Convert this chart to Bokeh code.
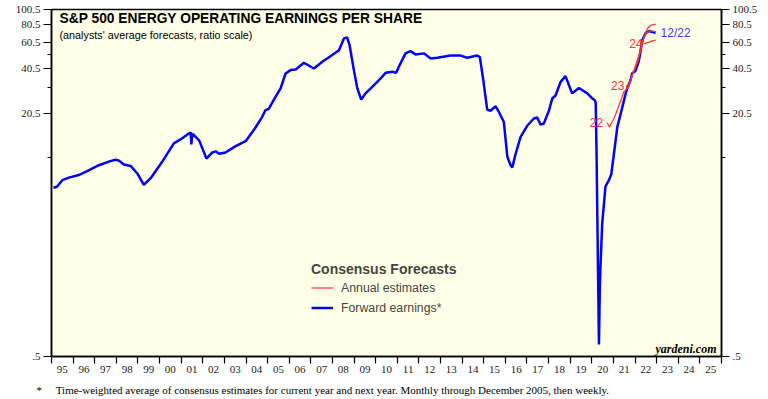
from bokeh.plotting import figure
from bokeh.models import FixedTicker, LogAxis, Range1d, Label, Legend, LegendItem, Title
from bokeh.embed import file_html
from bokeh.resources import INLINE

# ---------------- data ----------------
fwd_dates = [1995.09, 1995.25, 1995.5, 1995.8, 1996.26, 1996.65, 1997.19, 1997.72, 1997.96, 1998.11,
             1998.35, 1998.66, 1998.97, 1999.27, 1999.58, 2000.12, 2000.66, 2000.97, 2001.35, 2001.44,
             2001.47, 2001.52, 2001.83, 2002.17, 2002.44, 2002.6, 2002.75, 2003.05, 2003.5, 2004.0,
             2004.41, 2004.75, 2004.9, 2005.05, 2005.37, 2005.6, 2005.83, 2006.06, 2006.3, 2006.68,
             2006.9, 2007.14, 2007.53, 2007.99, 2008.3, 2008.53, 2008.68, 2008.79, 2008.99, 2009.15,
             2009.33, 2009.53, 2009.84, 2010.15, 2010.46, 2010.77, 2010.95, 2011.07, 2011.38, 2011.61,
             2011.84, 2012.23, 2012.54, 2012.85, 2013.46, 2013.93, 2014.23, 2014.7, 2014.82, 2014.98,
             2015.08, 2015.16, 2015.31, 2015.55, 2015.7, 2015.93, 2016.09, 2016.24, 2016.32, 2016.47,
             2016.7, 2017.01, 2017.32, 2017.47, 2017.63, 2017.78, 2018.02, 2018.17, 2018.32, 2018.55,
             2018.78, 2019.09, 2019.4, 2019.79, 2020.02, 2020.14, 2020.18, 2020.22, 2020.28, 2020.33,
             2020.37, 2020.4, 2020.48, 2020.63, 2020.79, 2020.9, 2021.02, 2021.18, 2021.33, 2021.6,
             2021.79, 2021.87, 2022.02, 2022.18, 2022.34, 2022.49, 2022.65, 2022.8, 2022.95]
fwd_values = [6.6, 6.7, 7.4, 7.7, 8.0, 8.5, 9.3, 9.9, 10.1, 10.0,
              9.4, 9.2, 8.2, 6.9, 7.6, 9.8, 13.0, 13.8, 15.1, 15.3,
              12.8, 15.1, 13.6, 10.3, 11.3, 11.5, 11.1, 11.3, 12.4, 13.5,
              16.3, 19.5, 21.6, 22.0, 26.5, 30.1, 37.8, 39.8, 40.2, 44.5,
              42.7, 40.8, 45.2, 50.1, 54.0, 64.6, 65.7, 58.4, 39.8, 30.1,
              25.4, 27.9, 30.8, 34.1, 38.2, 38.8, 38.2, 41.9, 51.4, 53.2,
              50.6, 51.4, 47.6, 48.1, 49.7, 49.7, 48.1, 49.7, 48.5, 34.1,
              26.5, 21.8, 21.4, 22.9, 21.0, 18.0, 10.6, 9.3, 9.0, 11.0,
              14.3, 17.0, 19.0, 19.3, 17.3, 17.6, 21.5, 25.8, 27.0, 33.1,
              36.3, 27.9, 30.3, 27.9, 25.8, 25.1, 24.0, 11.0, 2.2, 0.6,
              1.44, 1.96, 3.8, 6.7, 7.4, 8.1, 11.0, 16.7, 20.3, 29.1,
              34.1, 37.9, 39.3, 46.1, 63.3, 70.0, 72.3, 71.3, 70.4]

est22_dates = [2020.71, 2020.82, 2021.05, 2021.25, 2021.48, 2021.67, 2021.95, 2022.26, 2022.41, 2022.57, 2022.72, 2022.95]
est22_values = [17.8, 16.7, 19.3, 23.1, 28.5, 30.3, 39.8, 54.3, 66.2, 75.0, 79.0, 80.3]
est23_dates = [2021.6, 2021.63, 2021.7, 2021.85, 2022.0, 2022.15, 2022.3, 2022.42, 2022.55, 2022.7, 2022.85, 2022.95]
est23_values = [31.5, 30.0, 31.0, 36.5, 40.5, 46.0, 58.0, 66.0, 70.5, 72.5, 72.0, 71.5]
est24_dates = [2022.4, 2022.55, 2022.7, 2022.85, 2022.95]
est24_values = [59.5, 60.3, 61.5, 62.5, 63.0]

year_starts = list(range(1995, 2027))
year_labels = ["95", "96", "97", "98", "99", "00", "01", "02", "03", "04", "05", "06", "07", "08",
               "09", "10", "11", "12", "13", "14", "15", "16", "17", "18", "19", "20", "21", "22",
               "23", "24", "25"]
y_ticks = [0.5, 20.5, 40.5, 60.5, 80.5, 100.5]
y_tick_labels = [".5", "20.5", "40.5", "60.5", "80.5", "100.5"]
y_minor_ticks = [10.5, 30.5, 50.5]

RED = "#ff3030"
BLUE = "#0000ff"
NB = "\u00a0"

# ---------------- figure ----------------
p = figure(width=768, height=399, frame_width=670, frame_height=347,
           min_border_left=51, min_border_right=47, min_border_top=9, min_border_bottom=43,
           y_axis_type="log", x_range=Range1d(1995, 2026), y_range=Range1d(0.5, 100.5),
           output_backend="svg", toolbar_location=None, title=None)
p.background_fill_color = "#FFFFE8"
p.border_fill_color = "white"
p.outline_line_color = "black"
p.outline_line_width = 1.5
p.xgrid.visible = False
p.ygrid.visible = False

# x axis: ticks at year boundaries (minor), labels mid-year (major)
xa = p.xaxis[0]
mid = [y + 0.5 for y in year_starts[:-1]]
xa.ticker = FixedTicker(ticks=mid, minor_ticks=year_starts)
xa.major_label_overrides = {m: lab for m, lab in zip(mid, year_labels)}
xa.major_tick_out = 0
xa.major_tick_in = 0
xa.minor_tick_out = 7
xa.minor_tick_in = 0
xa.minor_tick_line_color = "black"
xa.minor_tick_line_width = 1.2
xa.axis_line_width = 1.5
xa.major_label_standoff = 2
xa.major_label_text_font = "Liberation Serif"
xa.major_label_text_font_size = "11px"
xa.major_label_text_color = "#222222"


def style_y(ax):
    ax.ticker = FixedTicker(ticks=y_ticks, minor_ticks=y_minor_ticks)
    ax.major_label_overrides = {t: lab for t, lab in zip(y_ticks, y_tick_labels)}
    ax.major_tick_out = 8
    ax.major_tick_in = 0
    ax.minor_tick_out = 4
    ax.minor_tick_in = 0
    ax.major_tick_line_width = 1.2
    ax.minor_tick_line_width = 1.2
    ax.axis_line_width = 1.5
    ax.major_label_standoff = 3
    ax.major_label_text_font = "Liberation Serif"
    ax.major_label_text_font_size = "11px"
    ax.major_label_text_color = "#222222"


style_y(p.yaxis[0])
ra = LogAxis()
style_y(ra)
p.add_layout(ra, "right")

# footnote below the axis
foot = Title(text="*" + NB * 5 + "Time-weighted average of consensus estimates for current year and next year. "
             "Monthly through December 2005, then weekly.",
             align="left", offset=-15, standoff=12, vertical_align="bottom",
             text_font="Liberation Serif", text_font_style="normal", text_font_size="11px",
             text_color="black")
p.add_layout(foot, "below")

# ---------------- lines ----------------
blue = p.line(fwd_dates, fwd_values, color=BLUE, line_width=2.5)
r22 = p.line(est22_dates, est22_values, color=RED, line_width=1.2)
r23 = p.line(est23_dates, est23_values, color=RED, line_width=1.2)
r24 = p.line(est24_dates, est24_values, color=RED, line_width=1.2)

for d, v, t, off in [(est22_dates, est22_values, "22", -4),
                     (est23_dates, est23_values, "23", -2),
                     (est24_dates, est24_values, "24", -1)]:
    p.add_layout(Label(x=d[0], y=v[0], text=t, x_offset=off, text_align="right",
                       text_baseline="middle", text_color=RED, text_font="Liberation Sans",
                       text_font_size="12px"))

p.add_layout(Label(x=fwd_dates[-1], y=fwd_values[-1], text="12/22", x_offset=5,
                   text_baseline="middle", text_color="#3a3aff", text_font="Liberation Sans",
                   text_font_size="12px"))

# ---------------- texts ----------------
p.add_layout(Label(x=8, y=338, x_units="screen", y_units="screen",
                   text="S&P 500 ENERGY OPERATING EARNINGS PER SHARE", text_baseline="middle",
                   text_font="Liberation Sans", text_font_style="bold", text_font_size="13.8px",
                   text_color="black"))
p.add_layout(Label(x=8, y=322, x_units="screen", y_units="screen",
                   text="(analysts' average forecasts, ratio scale)", text_baseline="middle",
                   text_font="Liberation Sans", text_font_size="10.8px", text_color="black"))
p.add_layout(Label(x=665, y=8, x_units="screen", y_units="screen", text="yardeni.com",
                   text_align="right", text_baseline="middle", text_font="Liberation Serif",
                   text_font_style="bold italic", text_font_size="12px", text_color="black"))

# ---------------- legend ----------------
legend = Legend(items=[LegendItem(label="Annual estimates", renderers=[r22]),
                       LegendItem(label="Forward earnings*", renderers=[blue])],
                title="Consensus Forecasts", location=(260, 40),
                title_text_font="Liberation Sans", title_text_font_style="bold",
                title_text_font_size="14px", title_standoff=2,
                label_text_font="Liberation Sans", label_text_font_size="12.3px",
                glyph_width=22, glyph_height=17, label_height=17, spacing=3,
                padding=0, margin=0, label_standoff=8,
                background_fill_alpha=0, border_line_alpha=0)
p.add_layout(legend)

open("out.html", "w").write(file_html(p, INLINE))
